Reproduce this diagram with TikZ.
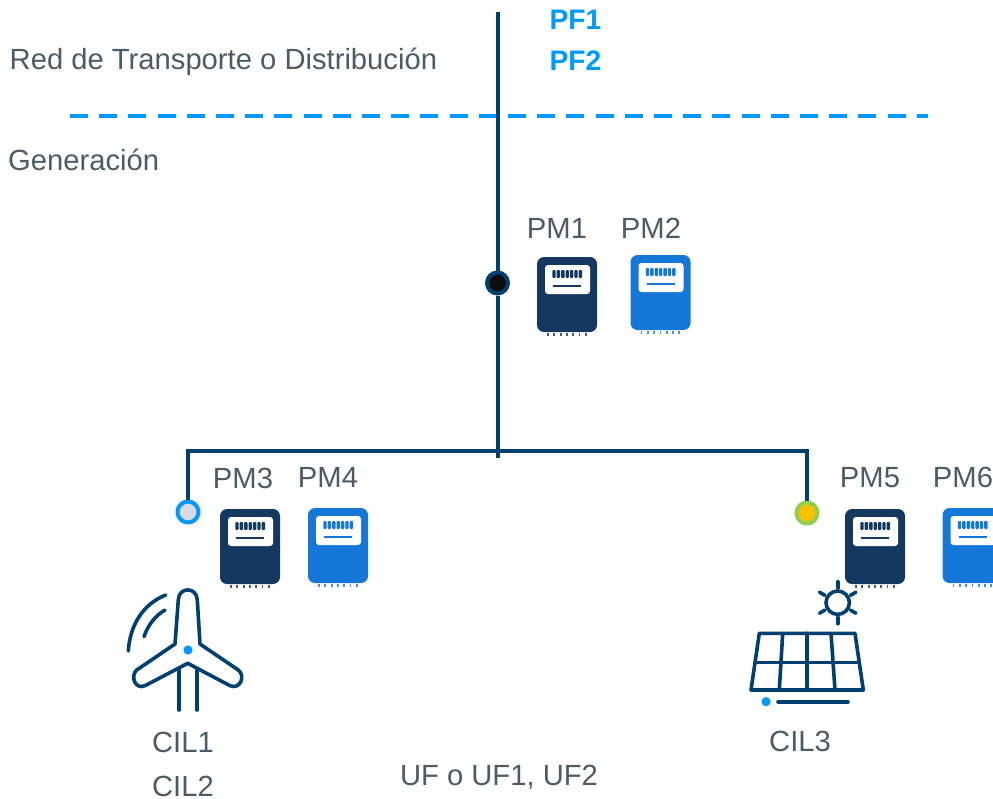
\documentclass[tikz,border=0pt]{standalone}
\usepackage{fontspec}
\usetikzlibrary{calc}
\setmainfont{Liberation Sans}
\definecolor{bus}{HTML}{004070}
\definecolor{meterdark}{HTML}{143860}
\definecolor{meterblue}{HTML}{1578D8}
\definecolor{accent}{HTML}{0099FF}
\definecolor{labelgray}{HTML}{4D5B66}
\definecolor{jgray}{HTML}{D8DBE5}
\definecolor{jgreen}{HTML}{92D050}
\definecolor{jamber}{HTML}{FFC000}
\definecolor{jblack}{HTML}{0C0C0C}
\tikzset{
  lbl/.style={text=labelgray,font=\fontsize{29.2}{30}\selectfont,inner sep=0pt},
  pflbl/.style={text=accent,font=\fontsize{28.2}{30}\selectfont\bfseries,inner sep=0pt},
  busline/.style={draw=bus,line width=4pt},
  joint/.style={circle,line width=4pt,minimum size=21pt,inner sep=0pt},
  icon/.style={draw=bus,line width=3.6pt,line cap=round,line join=round},
  meter/.pic={
    \fill[#1,rounded corners=7pt] (0,0) rectangle (60,75);
    \fill[white,rounded corners=3pt] (8,8) rectangle (53,37);
    \foreach \i in {0,...,6}{\fill[#1,rounded corners=1pt] (15.3+\i*4.4,13) rectangle ++(3.4,8);}
    \draw[#1,line width=2pt] (16,29) -- (44,29);
    \foreach \i in {0,...,6}{\draw[#1,line width=1.8pt,opacity=.8] (11+\i*6.3,75.5) -- ++(0,3.8);}
  }
}
\begin{document}
\begin{tikzpicture}[x=1pt,y=-1pt]
\useasboundingbox (0,0) rectangle (993,798);
% coordinates
\coordinate (top) at (497.5,12);
\coordinate (busend) at (497.5,458);
\coordinate (leftcorner) at (188,451);
\coordinate (rightcorner) at (807,451);
\coordinate (dashL) at (70,116);
\coordinate (dashR) at (928,116);
\coordinate (sun) at (837.7,602.7);
% dashed boundary
\draw[accent,line width=4pt,dash pattern=on 18pt off 11.2pt] (dashL) -- (dashR);
% junctions
\node[joint,draw=bus,fill=jblack] (jmain) at (497.5,283) {};
\node[joint,draw=accent,fill=jgray] (jwind) at (188,512) {};
\node[joint,draw=jgreen,fill=jamber] (jsolar) at (807,513) {};
% buses
\draw[busline] (top) -- (jmain);
\draw[busline] (jmain) -- (busend);
\draw[busline,line join=miter] (jwind) -- (leftcorner) -- (rightcorner) -- (jsolar);
% meters
\pic at (537,257) {meter=meterdark};
\pic at (630.5,255) {meter=meterblue};
\pic at (220,509) {meter=meterdark};
\pic at (308,508) {meter=meterblue};
\pic at (845,509) {meter=meterdark};
\pic at (942.5,508) {meter=meterblue};
% wind turbine
\draw[icon] (175,644) -- (178.3,600) .. controls (178.6,586.5) and (196.8,586.5) .. (197.3,600) -- (200,644)
  -- (238.3,670) .. controls (246,676) and (240,690) .. (230,685.7) -- (187.7,663.3)
  -- (145,685.7) .. controls (135,690) and (130,676) .. (136.7,670) -- cycle;
\draw[icon] (179,670) -- (179,710);
\draw[icon] (197,670) -- (197,710);
\fill[accent] (188,650) circle (4.6);
\draw[icon] (165.7,595) .. controls (143,604) and (130,625) .. (128.3,651);
\draw[icon] (165,610) .. controls (155,616) and (148,625) .. (144,636.7);
% solar panel
\draw[icon] (sun) circle (11.7);
\foreach \a in {30,90,150,210,270,330}{
  \draw[icon] ($(sun)+(\a:14.7)$) -- ($(sun)+(\a:21)$);
}
\draw[icon] (759.3,633.3) -- (855,633.3) -- (863.3,690) -- (751,690) -- cycle;
\draw[icon] (755,662.3) -- (859,662.3);
\draw[icon] (782.7,633.3) -- (779.3,690);
\draw[icon] (807,633.3) -- (807,687);
\draw[icon] (831,633.3) -- (835,690);
\fill[accent] (766,701.7) circle (4.6);
\draw[icon] (778,701.7) -- (848,701.7);
% labels
\node[pflbl] (pf1) at (575.5,20) {PF1};
\node[pflbl] (pf2) at (575.5,61) {PF2};
\node[lbl,anchor=west] (red) at (9.5,62) {Red de Transporte o Distribución};
\node[lbl,anchor=west] (gen) at (8,160) {Generación};
\node[lbl] (pm1) at (557,228) {PM1};
\node[lbl] (pm2) at (651,228) {PM2};
\node[lbl] (pm3) at (243,478) {PM3};
\node[lbl] (pm4) at (328,477) {PM4};
\node[lbl] (pm5) at (870,478) {PM5};
\node[lbl] (pm6) at (963,477) {PM6};
\node[lbl] (cil1) at (183,742) {CIL1};
\node[lbl] (cil2) at (183,786) {CIL2};
\node[lbl] (cil3) at (800,741) {CIL3};
\node[lbl] (uf) at (499,777) {UF o UF1, UF2};
\end{tikzpicture}
\end{document}
